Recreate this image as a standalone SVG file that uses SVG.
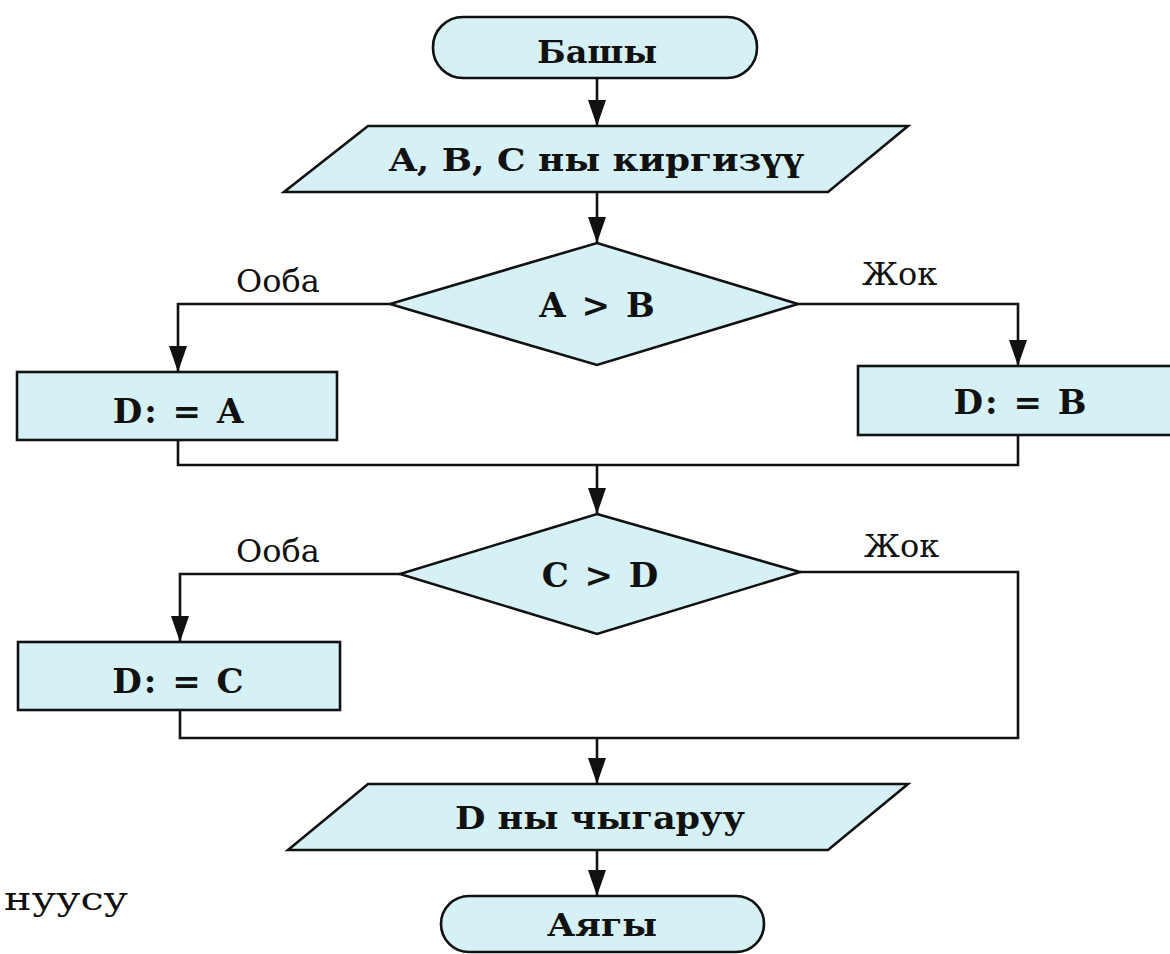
<svg xmlns="http://www.w3.org/2000/svg" width="1170" height="954" viewBox="0 0 1170 954">
  <style>
    .shape { fill: #d6f1f5; stroke: #111; stroke-width: 2.6; stroke-linejoin: miter; }
    .conn { fill: none; stroke: #111; stroke-width: 2.6; }
    .t { font-family: "DejaVu Serif", "Liberation Serif", serif; font-weight: bold; font-size: 32px; fill: #111; text-anchor: middle; }
    .s { font-size: 34px; letter-spacing: 2px; }
    .lbl { font-family: "DejaVu Serif", "Liberation Serif", serif; font-size: 32px; fill: #111; }
  </style>
  <defs>
    <marker id="ad" markerUnits="userSpaceOnUse" markerWidth="28" markerHeight="18" refX="26" refY="9" orient="auto" viewBox="0 0 28 18">
      <path d="M0,0 L26,9 L0,18 Z" fill="#111"/>
    </marker>
  </defs>

  <rect width="1170" height="954" fill="#ffffff"/>

  <g id="connectors">
    <path class="conn" d="M597,78 L597,126" marker-end="url(#ad)"/>
    <path class="conn" d="M597,192 L597,243" marker-end="url(#ad)"/>
    <path class="conn" d="M390,304 L178,304 L178,372" marker-end="url(#ad)"/>
    <path class="conn" d="M798,304 L1018,304 L1018,366" marker-end="url(#ad)"/>
    <path class="conn" d="M178,440 L178,465 L1018,465 L1018,435"/>
    <path class="conn" d="M597,465 L597,514" marker-end="url(#ad)"/>
    <path class="conn" d="M400,574 L180,574 L180,642" marker-end="url(#ad)"/>
    <path class="conn" d="M800,572 L1018,572 L1018,738 L180,738 L180,710"/>
    <path class="conn" d="M597,738 L597,784" marker-end="url(#ad)"/>
    <path class="conn" d="M597,850 L597,896" marker-end="url(#ad)"/>
    <text class="lbl" x="236" y="292">Ооба</text>
    <text class="lbl" x="862" y="285">Жок</text>
    <text class="lbl" x="236" y="562">Ооба</text>
    <text class="lbl" x="864" y="557">Жок</text>
  </g>

  <g id="start">
    <rect class="shape" x="433" y="17" width="324" height="61" rx="30" ry="30"/>
    <text class="t" x="597" y="63" textLength="120" lengthAdjust="spacingAndGlyphs">Башы</text>
  </g>

  <g id="input">
    <polygon class="shape" points="368,126 908,126 828,192 284,192"/>
    <text class="t" x="596" y="171" textLength="414" lengthAdjust="spacingAndGlyphs">A, B, C ны киргизүү</text>
  </g>

  <g id="cond1">
    <polygon class="shape" points="597,243 798,304 597,365 390,304"/>
    <text class="t s" x="598" y="317">A &gt; B</text>
  </g>

  <g id="assignA">
    <rect class="shape" x="17" y="372" width="320" height="68"/>
    <text class="t s" x="179" y="423">D: = A</text>
  </g>

  <g id="assignB">
    <rect class="shape" x="858" y="366" width="320" height="69"/>
    <text class="t s" x="1021" y="414">D: = B</text>
  </g>

  <g id="cond2">
    <polygon class="shape" points="597,514 800,572 597,634 400,574"/>
    <text class="t s" x="601" y="587">C &gt; D</text>
  </g>

  <g id="assignC">
    <rect class="shape" x="18" y="642" width="322" height="68"/>
    <text class="t s" x="179" y="693">D: = C</text>
  </g>

  <g id="output">
    <polygon class="shape" points="368,784 908,784 828,850 288,850"/>
    <text class="t" x="600" y="829" textLength="290" lengthAdjust="spacingAndGlyphs">D ны чыгаруу</text>
  </g>

  <g id="end">
    <rect class="shape" x="441" y="896" width="323" height="56" rx="28" ry="28"/>
    <text class="t" x="602" y="936" textLength="110" lengthAdjust="spacingAndGlyphs">Аягы</text>
  </g>

  <g id="fragment">
    <text class="lbl" x="4" y="910" font-size="36" textLength="124" lengthAdjust="spacingAndGlyphs">нуусу</text>
  </g>
</svg>
